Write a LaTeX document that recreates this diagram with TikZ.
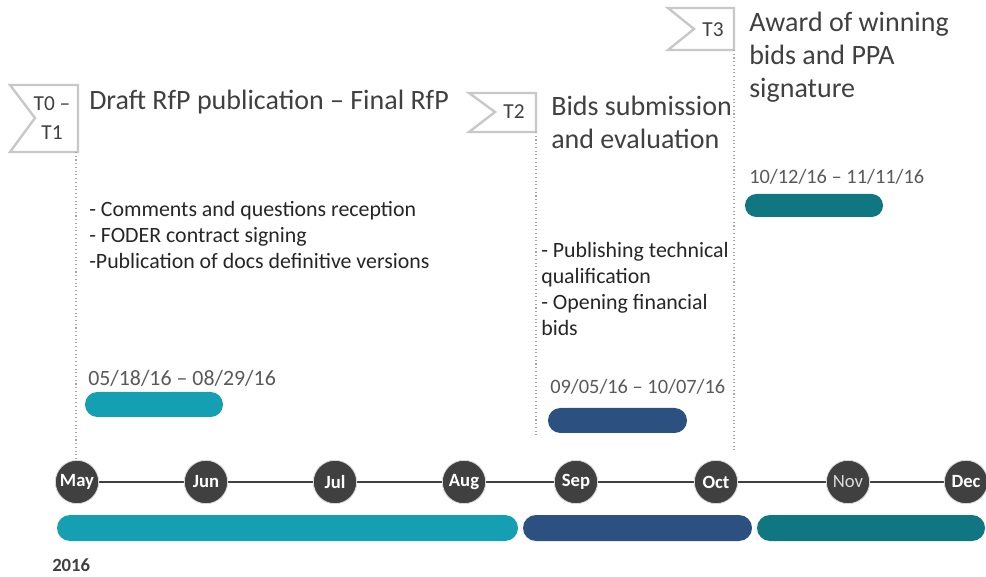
\documentclass[tikz,border=0pt]{standalone}
\usepackage{fontspec}
\setmainfont{Carlito}
\usetikzlibrary{backgrounds}

\definecolor{tealA}{RGB}{20,160,178}
\definecolor{navyB}{RGB}{44,81,128}
\definecolor{tealC}{RGB}{16,118,130}
\definecolor{ink}{RGB}{64,64,64}
\definecolor{bodyink}{RGB}{38,38,38}
\definecolor{dateink}{RGB}{89,89,89}
\definecolor{flaggray}{RGB}{200,200,200}

\tikzset{
  month/.style={circle, fill=ink, draw=white!85!black, line width=0.6pt, minimum size=32.5pt, inner sep=0pt,
    text=white, font=\fontsize{14}{16}\selectfont\bfseries},
  flag/.style={draw=flaggray, fill=white, line width=1.8pt, line join=miter},
  flagtext/.style={text=ink, font=\fontsize{16}{22}\selectfont, inner sep=0pt, align=center},
  title/.style={anchor=base west, inner sep=0pt, align=left, text=ink, font=\fontsize{21}{25}\selectfont},
  body/.style={anchor=base west, inner sep=0pt, align=left, text=bodyink, font=\fontsize{16.4}{19.6}\selectfont},
  date/.style={anchor=base west, inner sep=0pt, text=dateink, font=\fontsize{15.3}{19}\selectfont},
  guide/.style={draw=gray!70, line width=0.8pt, dotted},
}

\begin{document}
\begin{tikzpicture}[x=0.75pt,y=-0.75pt]
  \useasboundingbox (0,0) rectangle (986,577);

  % milestone flags
  \draw[flag] (10,85) -- (78,85) -- (78,152) -- (10,152) -- (35,118) -- cycle;
  \node[flagtext] (t0) at (52,118) {T0 --\\T1};
  \draw[flag] (469,93) -- (536,93) -- (536,132) -- (469,132) -- (495,112) -- cycle;
  \node[flagtext] (t2) at (514,112) {T2};
  \draw[flag] (668,8) -- (734,8) -- (734,50) -- (668,50) -- (694,29) -- cycle;
  \node[flagtext] (t3) at (713,30) {T3};

  % phase titles (base = last line)
  \node[title] (ttlA) at (89,110) {Draft RfP publication -- Final RfP};
  \node[title] (ttlB) at (551,149) {Bids submission\\and evaluation};
  \node[title] (ttlC) at (749,98) {Award of winning\\bids and PPA\\signature};

  % tasks
  \node[body] (tasksA) at (89,269) {- Comments and questions reception\\- FODER contract signing\\-Publication of docs definitive versions};
  \node[body] (tasksB) at (541,336) {- Publishing technical\\qualification\\- Opening financial\\bids};

  % dates and phase bars
  \node[date, font=\fontsize{16.4}{19.6}\selectfont] (dateA) at (88,386) {05/18/16 -- 08/29/16};
  \fill[tealA, rounded corners=9.3pt] (85,392) rectangle (223,417);
  \node[date] (dateB) at (550,394) {09/05/16 -- 10/07/16};
  \fill[navyB, rounded corners=9.3pt] (548,408) rectangle (687,433);
  \node[date] (dateC) at (749,184) {10/12/16 -- 11/11/16};
  \fill[tealC, rounded corners=8.5pt] (745,194) rectangle (883,217);

  % months
  \node[month] (may) at (77,482) {May};
  \node[month] (jun) at (206,482) {Jun};
  \node[month] (jul) at (335,482) {Jul};
  \node[month] (aug) at (464,482) {Aug};
  \node[month] (sep) at (576,482) {Sep};
  \node[month] (oct) at (716,482) {Oct};
  \node[month, font=\fontsize{14}{16}\selectfont, text=white!85!black] (nov) at (848,482) {Nov};
  \node[month] (dec) at (966,482) {Dec};
  \begin{scope}[on background layer]
    \draw[ink, line width=1.6pt] (may) -- (dec);
  \end{scope}

  % guide lines from the flags
  \coordinate (g0) at (76,152);
  \coordinate (g2) at (536,132);
  \coordinate (g3) at (734,50);
  \draw[guide] (g0) -- (g0 |- may.north);
  \draw[guide] (g2) -- (536,437);
  \draw[guide] (g3) -- (734,450);

  % overall bars
  \fill[tealA, rounded corners=9.75pt] (57,515) rectangle (518,541);
  \fill[navyB, rounded corners=9.75pt] (523,515) rectangle (752,541);
  \fill[tealC, rounded corners=9.75pt] (757,515) rectangle (985,541);
  \node[anchor=base west, inner sep=0pt, text=ink, font=\fontsize{14}{16}\selectfont\bfseries] (year) at (52,571) {2016};
\end{tikzpicture}
\end{document}
